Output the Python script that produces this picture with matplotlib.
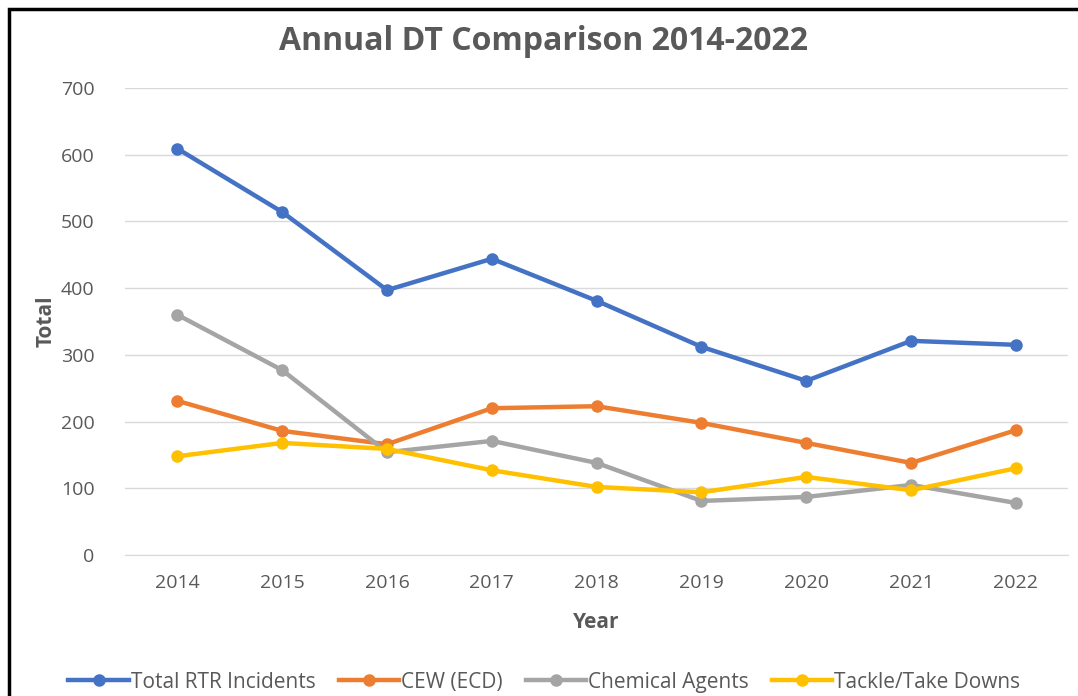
import matplotlib.pyplot as plt
from matplotlib.patches import Rectangle

years = ["2014", "2015", "2016", "2017", "2018", "2019", "2020", "2021", "2022"]
total_rtr = [609, 514, 397, 444, 381, 312, 261, 321, 315]
cew = [231, 186, 166, 220, 223, 198, 168, 138, 187]
chemical = [360, 277, 154, 171, 138, 81, 87, 105, 78]
tackle = [148, 168, 159, 127, 102, 94, 117, 97, 130]

series = [
    ("Total RTR Incidents", total_rtr, "#4472C4"),
    ("CEW (ECD)", cew, "#ED7D31"),
    ("Chemical Agents", chemical, "#A5A5A5"),
    ("Tackle/Take Downs", tackle, "#FFC000"),
]

plt.rcParams['font.family'] = ['Open Sans', 'DejaVu Sans']

fig = plt.figure(figsize=(10.78, 6.96), dpi=100)
ax = fig.add_axes([0.116, 0.2026, 0.875, 0.671])

x = list(range(len(years)))
for name, vals, col in series:
    ax.plot(x, vals, color=col, linewidth=3.2, marker="o", markersize=8, label=name)

ax.set_xlim(-0.5, len(years) - 0.5)
ax.set_ylim(0, 700)
ax.set_yticks(range(0, 701, 100))
ax.set_xticks(x)
ax.set_xticklabels(years)
ax.grid(axis="y", color="#D9D9D9", linewidth=1)
ax.set_axisbelow(True)
for s in ["top", "right", "left"]:
    ax.spines[s].set_visible(False)
ax.spines["bottom"].set_color("#D9D9D9")
ax.tick_params(axis="x", length=0, labelsize=14, colors="#595959", pad=14)
ax.tick_params(axis="y", length=0, labelsize=14, colors="#595959", pad=22)

ax.set_xlabel("Year", fontsize=15, fontweight="bold", color="#595959", labelpad=14)
ax.set_ylabel("Total", fontsize=15, fontweight="bold", color="#595959", labelpad=3)
fig.text(0.504, 0.94, "Annual DT Comparison 2014-2022", ha="center", va="center",
         fontsize=23, fontweight="bold", color="#595959")

fig.legend(loc="center", bbox_to_anchor=(0.505, 0.02), ncol=4, frameon=False,
           fontsize=15, handlelength=2.9, columnspacing=1.1, handletextpad=0.1,
           labelcolor="#595959")

# outer black frame, clipped at right and bottom like the screenshot
fig.patches.append(Rectangle((9 / 1078, -0.1), 1.2, 1 - 9 / 696 + 0.1,
                             transform=fig.transFigure, fill=False,
                             edgecolor="black", linewidth=2.5))

fig.savefig("out.png", dpi=100)
